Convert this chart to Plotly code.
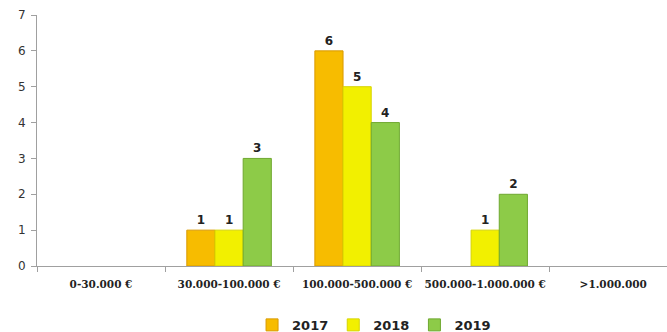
import plotly.graph_objects as go

categories = ["0-30.000 €", "30.000-100.000 €", "100.000-500.000 €", "500.000-1.000.000 €", ">1.000.000"]
years = ["2017", "2018", "2019"]
v2017 = [None, 1, 6, None, None]
v2018 = [None, 1, 5, 1, None]
v2019 = [None, 3, 4, 2, None]
colors = ["#F7BC00", "#F2F000", "#8DCB48"]
line_colors = ["#D99A00", "#D6D400", "#6FA830"]

fig = go.Figure()
for name, vals, c, lc in zip(years, [v2017, v2018, v2019], colors, line_colors):
    fig.add_trace(go.Bar(
        x=categories, y=vals, name=name,
        marker=dict(color=c, line=dict(color=lc, width=1)),
        text=[("" if v is None else f"<b>{v}</b>") for v in vals],
        textposition="outside", cliponaxis=False,
        textfont=dict(family="DejaVu Sans", size=12, color="#222222"),
    ))

fig.update_layout(
    width=667, height=332,
    margin=dict(l=37, r=0, t=15, b=66, autoexpand=False),
    paper_bgcolor="white", plot_bgcolor="white",
    barmode="group", bargap=0.34, bargroupgap=0,
    font=dict(family="Liberation Sans", color="#333333"),
    showlegend=True,
    legend=dict(orientation="h", x=0.535, xanchor="center", y=-0.175, yanchor="top",
                font=dict(family="DejaVu Sans", size=13, color="#222222", weight="bold"),
                itemwidth=30, traceorder="normal"),
    xaxis=dict(range=[-0.5, 4.42], showline=True, linecolor="#A0A0A0", linewidth=1,
               ticks="outside", tickson="boundaries", ticklen=5, tickcolor="#A0A0A0",
               tickangle=0, ticklabelstandoff=8,
               tickfont=dict(family="DejaVu Serif", size=10.5, color="#222222", weight="bold"),
               showgrid=False, zeroline=False, automargin=False),
    yaxis=dict(range=[0, 7], dtick=1, showline=True, linecolor="#A0A0A0", linewidth=1,
               ticks="outside", ticklen=5, tickcolor="#A0A0A0", ticklabelstandoff=3,
               tickfont=dict(family="DejaVu Sans", size=12, color="#333333"),
               showgrid=False, zeroline=False, automargin=False),
)
fig.write_html("out.html", post_script="document.body.style.margin='0';",
               config={"displayModeBar": False})
